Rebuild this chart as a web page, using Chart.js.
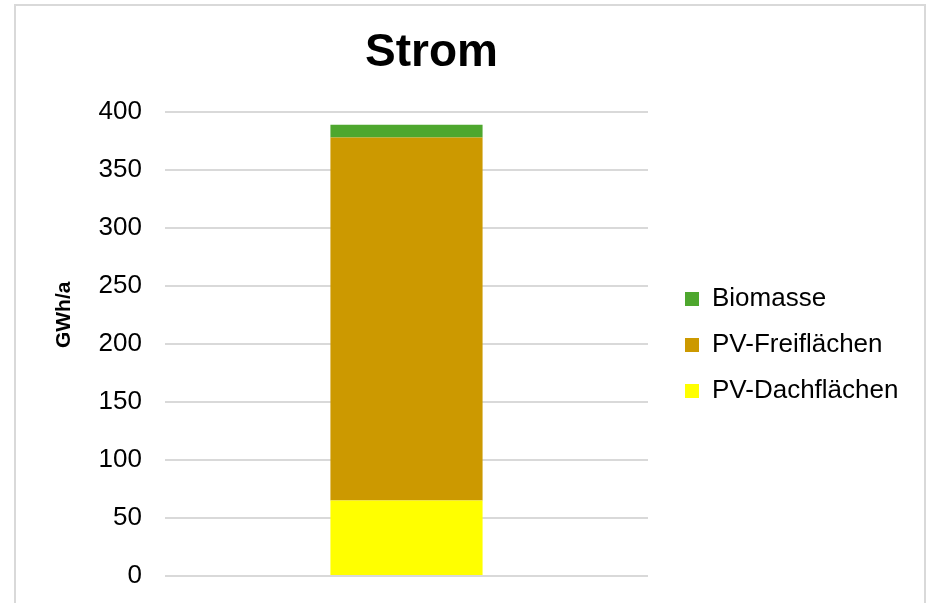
<!DOCTYPE html>
<html>
<head>
<meta charset="utf-8">
<script src="https://cdn.jsdelivr.net/npm/chart.js@4/dist/chart.umd.min.js"></script>
<style>
  html, body { margin: 0; padding: 0; background: #fff; overflow: hidden; }
  #wrap { position: relative; width: 936px; height: 603px; }
  #frame { position: absolute; left: 14px; top: 4px; width: 912px; height: 700px; border: 2px solid #d9d9d9; box-sizing: border-box; pointer-events: none; }
  canvas { position: absolute; left: 0; top: 0; }
</style>
</head>
<body>
<div id="wrap">
  <canvas id="c" width="936" height="603"></canvas>
  <div id="frame"></div>
</div>
<script>
// ---- data ----
const categories = [''];
const seriesNames = ['PV-Dachflächen', 'PV-Freiflächen', 'Biomasse'];
const pvDach = [65];
const pvFrei = [313];
const biomasse = [11];
const seriesColors = ['#FFFF00', '#CC9900', '#4EA72E'];
const yTicksMin = 0, yTicksMax = 400, yTickStep = 50;
const chartTitle = 'Strom';
const yAxisTitle = 'GWh/a';

Chart.defaults.font.family = "'Liberation Sans', Arial, sans-serif";
Chart.defaults.color = '#000';

const placeBoxes = {
  id: 'placeBoxes',
  afterLayout(chart) {
    const t = chart.titleBlock;
    if (t) { const shift = 431.5 - (t.left + t.right) / 2; t.left += shift; t.right += shift; }
    const lg = chart.legend;
    if (lg) {
      lg.left = 665; lg.right = 936; lg.top = 266; lg.bottom = 603;
    }
  }
};

new Chart(document.getElementById('c'), {
  type: 'bar',
  data: {
    labels: categories,
    datasets: [
      { label: seriesNames[0], data: pvDach, backgroundColor: seriesColors[0] },
      { label: seriesNames[1], data: pvFrei, backgroundColor: seriesColors[1] },
      { label: seriesNames[2], data: biomasse, backgroundColor: seriesColors[2] }
    ]
  },
  options: {
    responsive: false,
    animation: false,
    layout: { padding: { left: 0, top: 0, right: 88, bottom: 27 } },
    datasets: { bar: { categoryPercentage: 0.315, barPercentage: 1, borderWidth: 0 } },
    plugins: {
      title: {
        display: true, text: chartTitle,
        font: { size: 46, weight: 'bold' },
        padding: { top: 25.9, bottom: 30.9 }
      },
      legend: {
        position: 'right', align: 'start', reverse: true, maxWidth: 200,
        labels: { boxWidth: 14, boxHeight: 14, padding: 20, font: { size: 26 }, color: '#000' }
      },
      tooltip: { enabled: false }
    },
    scales: {
      x: { stacked: true, display: false },
      y: {
        stacked: true, min: yTicksMin, max: yTicksMax,
        ticks: { stepSize: yTickStep, padding: 23, font: { size: 26 }, color: '#000' },
        grid: { color: '#d9d9d9', lineWidth: 2, drawTicks: false },
        border: { display: false },
        title: { display: true, text: '          ' + yAxisTitle, font: { size: 21, weight: 'bold' }, padding: { top: 51.4, bottom: 0 }, color: '#000' },
        afterFit(scale) { scale.width = 165; scale.paddingTop = 0; scale.paddingBottom = 0; }
      }
    }
  },
  plugins: [placeBoxes]
});
</script>
</body>
</html>
